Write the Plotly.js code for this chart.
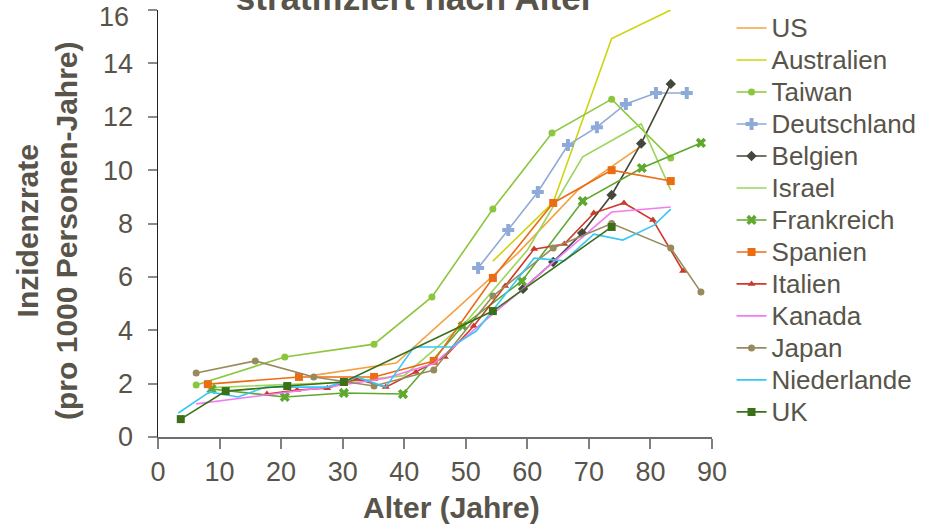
<!DOCTYPE html>
<html>
<head>
<meta charset="utf-8">
<script src="https://cdn.plot.ly/plotly-3.0.1.min.js"></script>
<style>
  html, body { margin: 0; padding: 0; background: #ffffff; }
  #chart { width: 926px; height: 527px; }
</style>
</head>
<body>
<div id="chart"></div>
<script>
// Inzidenzrate nach Altersgruppe, je Land (Alter in Jahren, Rate pro 1000 Personen-Jahre)
const usAge = [25, 38.7, 48.5, 58.5, 68.2, 78.5];
const usRate = [2.3, 2.77, 4.8, 6.9, 9.25, 10.9];

const australienAge = [54.4, 64.2, 73.7, 83.3];
const australienRate = [6.59, 8.79, 14.93, 16.0];

const taiwanAge = [6.2, 20.6, 35.1, 44.5, 54.4, 64.0, 73.7, 83.3];
const taiwanRate = [1.95, 3.0, 3.48, 5.25, 8.54, 11.39, 12.66, 10.45];

const deutschlandAge = [52.0, 56.9, 61.7, 66.6, 71.3, 76.0, 80.9, 85.9];
const deutschlandRate = [6.33, 7.76, 9.18, 10.94, 11.61, 12.48, 12.89, 12.89];

const belgienAge = [59.3, 64.2, 68.9, 73.7, 78.5, 83.3];
const belgienRate = [5.55, 6.56, 7.64, 9.07, 11.0, 13.23];

const israelAge = [8.7, 20, 30, 40, 50, 60, 69, 78.5, 83.3];
const israelRate = [1.85, 1.95, 2.05, 2.3, 4.3, 7.0, 10.5, 11.73, 9.25];

const frankreichAge = [8.7, 20.6, 30.2, 39.8, 49.5, 59.1, 69.0, 78.6, 88.2];
const frankreichRate = [1.8, 1.5, 1.65, 1.61, 4.16, 5.84, 8.84, 10.08, 11.02];

const spanienAge = [8.1, 22.9, 35.1, 44.8, 54.4, 64.2, 73.7, 83.3];
const spanienRate = [1.98, 2.25, 2.25, 2.85, 5.96, 8.77, 10.0, 9.59];

const italienAge = [17.7, 22.6, 27.5, 32.3, 37.0, 41.9, 46.6, 51.3, 56.4, 61.1, 66.0, 70.8, 75.7, 80.4, 85.3];
const italienRate = [1.61, 1.76, 1.83, 2.17, 1.87, 2.44, 3.0, 4.16, 5.66, 7.04, 7.23, 8.39, 8.77, 8.13, 6.22];

const kanadaAge = [6.2, 17.2, 27.5, 37.0, 44.8, 59.3, 64.2, 73.7, 83.3];
const kanadaRate = [1.24, 1.57, 1.87, 2.2, 2.75, 5.55, 6.55, 8.43, 8.62];

const japanAge = [6.2, 15.8, 25.3, 35.1, 44.8, 54.4, 64.2, 73.7, 83.3, 88.2];
const japanRate = [2.4, 2.85, 2.25, 1.91, 2.51, 5.28, 7.08, 8.0, 7.08, 5.43];

const niederlandeAge = [3.3, 8.4, 13.0, 17.5, 27.5, 32.3, 37.0, 41.6, 47.6, 51.7, 61.1, 66.0, 70.8, 75.5, 80.6, 83.3];
const niederlandeRate = [0.9, 1.69, 1.5, 1.87, 1.87, 2.25, 1.87, 3.37, 3.37, 3.97, 6.7, 6.6, 7.6, 7.38, 7.94, 8.54];

const ukAge = [3.7, 11.0, 21.0, 30.2, 54.4, 73.7];
const ukRate = [0.67, 1.72, 1.91, 2.06, 4.72, 7.87];

const xTicks = [0, 10, 20, 30, 40, 50, 60, 70, 80, 90];
const yTicks = [0, 2, 4, 6, 8, 10, 12, 14, 16];
const yTopTick = yTicks[yTicks.length - 1];

const textColor = '#58544a';
const fontFamily = '"Liberation Sans", Arial, sans-serif';

// legend label: larger glyphs than the legend row height would imply
function label(name) {
  return '<span style="font-size:26px">' + name + '</span>';
}

function series(name, x, y, color, symbol, size) {
  const t = {
    type: 'scatter',
    mode: symbol ? 'lines+markers' : 'lines',
    name: label(name),
    x: x,
    y: y,
    line: { color: color, width: 1.6 },
    cliponaxis: true
  };
  if (symbol) {
    t.marker = { symbol: symbol, size: size, color: color, line: { width: 0 } };
  }
  return t;
}

const data = [
  series('US', usAge, usRate, '#f5a142', null),
  series('Australien', australienAge, australienRate, '#cdd409', null),
  series('Taiwan', taiwanAge, taiwanRate, '#8cc63e', 'circle', 7),
  series('Deutschland', deutschlandAge, deutschlandRate, '#8eaad8', 'cross', 10),
  series('Belgien', belgienAge, belgienRate, '#45473d', 'diamond', 8),
  series('Israel', israelAge, israelRate, '#9ad65c', null),
  series('Frankreich', frankreichAge, frankreichRate, '#5fa82f', 'x', 9),
  series('Spanien', spanienAge, spanienRate, '#ec6c14', 'square', 8),
  series('Italien', italienAge, italienRate, '#cc3a2a', 'triangle-up', 7),
  series('Kanada', kanadaAge, kanadaRate, '#f47af4', null),
  series('Japan', japanAge, japanRate, '#978b5d', 'circle', 7),
  series('Niederlande', niederlandeAge, niederlandeRate, '#36c8f5', null),
  series('UK', ukAge, ukRate, '#3c7018', 'square', 8)
];

const axisTitleFont = { family: fontFamily, size: 30, weight: 'bold', color: textColor };

const layout = {
  width: 926,
  height: 527,
  margin: { l: 158, r: 214, t: 10, b: 90, pad: 0 },
  paper_bgcolor: '#ffffff',
  plot_bgcolor: '#ffffff',
  font: { family: fontFamily, color: textColor, size: 27 },
  title: {
    text: 'stratifiziert nach Alter',
    font: { family: fontFamily, size: 35, weight: 'bold', color: textColor },
    xref: 'paper',
    yref: 'container',
    x: 0.464,
    xanchor: 'center',
    y: 0.981,
    yanchor: 'bottom'
  },
  xaxis: {
    range: [0, 90],
    tickmode: 'array',
    tickvals: xTicks,
    ticktext: xTicks.map(String),
    ticks: 'outside',
    ticklen: 10,
    tickwidth: 2,
    tickcolor: '#7f7f7f',
    showline: true,
    linecolor: '#6e6e6e',
    linewidth: 2,
    showgrid: false,
    zeroline: false,
    tickfont: { size: 27, color: textColor },
    automargin: false
  },
  yaxis: {
    range: [0, 16],
    tickmode: 'array',
    tickvals: yTicks,
    // the top label sits a little lower so it stays inside the page
    ticktext: yTicks.map(v => (v === yTopTick ? '' : String(v))),
    ticks: 'outside',
    ticklen: 9,
    tickwidth: 2,
    tickcolor: '#8a8a8a',
    ticklabelstandoff: 9,
    showline: true,
    linecolor: '#222222',
    linewidth: 1.5,
    showgrid: false,
    zeroline: false,
    tickfont: { size: 27, color: textColor },
    automargin: false
  },
  annotations: [
    {
      text: String(yTopTick),
      xref: 'paper', yref: 'y',
      x: 0, y: yTopTick,
      xanchor: 'right', yanchor: 'middle',
      xshift: -27, yshift: -7,
      showarrow: false,
      font: { family: fontFamily, size: 27, color: textColor }
    },
    {
      text: 'Alter (Jahre)',
      xref: 'paper', yref: 'paper',
      x: 0.529, y: -0.166,
      xanchor: 'center', yanchor: 'middle',
      showarrow: false,
      font: axisTitleFont
    },
    {
      text: 'Inzidenzrate<br>(pro 1000 Personen-Jahre)',
      xref: 'paper', yref: 'paper',
      x: -0.2, y: 0.483,
      xanchor: 'center', yanchor: 'middle',
      textangle: -90,
      showarrow: false,
      font: axisTitleFont
    }
  ],
  showlegend: true,
  legend: {
    xref: 'container',
    yref: 'container',
    x: 0.79,
    xanchor: 'left',
    y: 0.9867,
    yanchor: 'top',
    maxheight: 520,
    bgcolor: 'rgba(0,0,0,0)',
    borderwidth: 0,
    font: { family: fontFamily, size: 22.3, color: textColor },
    traceorder: 'normal',
    itemwidth: 30
  },
  hovermode: false
};

Plotly.newPlot('chart', data, layout, { staticPlot: true, displayModeBar: false });
</script>
</body>
</html>
